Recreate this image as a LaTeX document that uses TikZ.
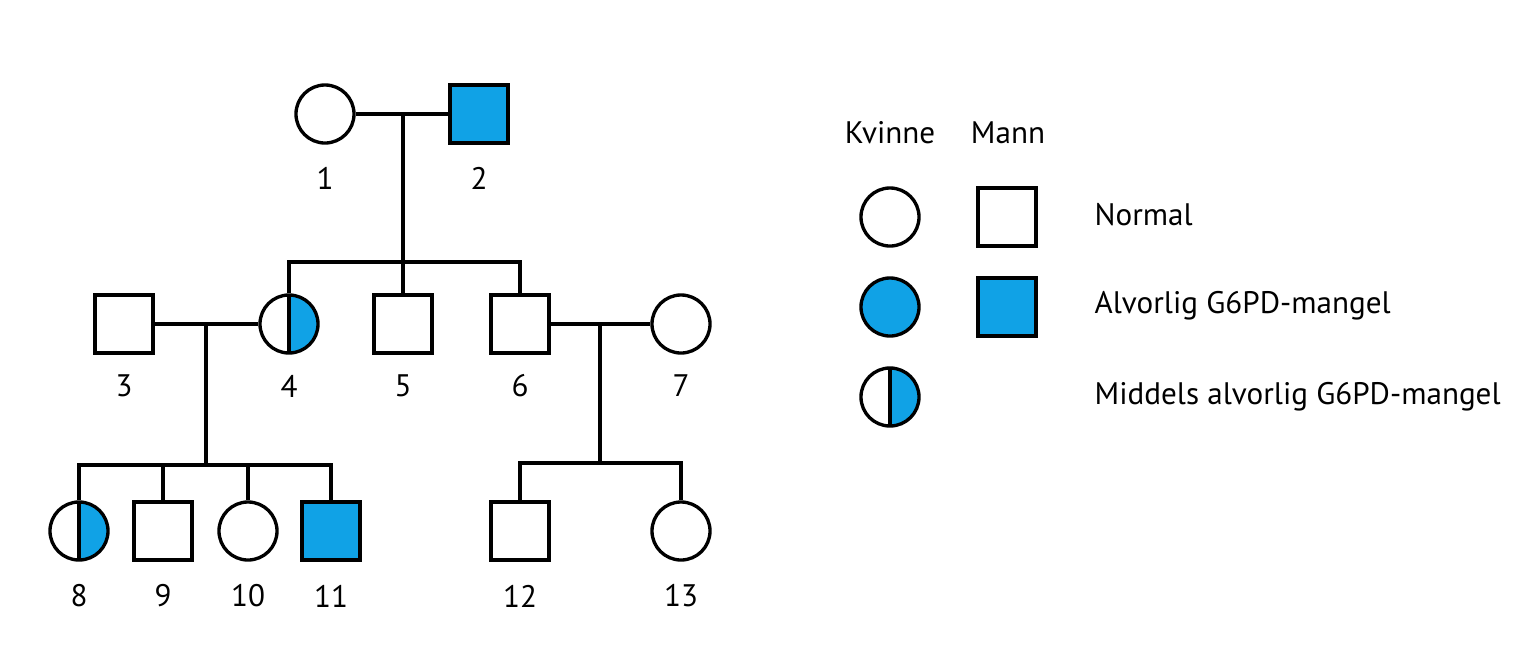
\documentclass[tikz,border=0pt]{standalone}
\usepackage{fontspec}
\setmainfont{PT Sans}
\usepackage{tikz}
\usetikzlibrary{positioning}

\definecolor{sick}{RGB}{16,162,230}

\begin{document}
\begin{tikzpicture}[
  x=0.01cm, y=-0.01cm,
  line width=0.95pt,
  font=\fontsize{8.85}{10.5}\selectfont,
  female/.style={draw, circle, minimum size=0.58cm, inner sep=0pt, fill=white},
  male/.style={draw, rectangle, minimum size=0.58cm, inner sep=0pt, fill=white},
  affected/.style={fill=sick},
  carrier/.style={path picture={
      \fill[sick] (path picture bounding box.north) rectangle (path picture bounding box.south east);
      \draw (path picture bounding box.north) -- (path picture bounding box.south);}},
  num/.style={inner sep=0pt},
  legtext/.style={anchor=west, inner sep=0pt},
]
  \useasboundingbox (0,0) rectangle (1530,663);

  % Generation I
  \node[female] (p1) at (325,114) {};
  \node[male, affected] (p2) at (479,114) {};

  % Generation II
  \node[male] (p3) at (124,324) {};
  \node[female, carrier] (p4) at (289,324) {};
  \node[male] (p5) at (403,324) {};
  \node[male] (p6) at (520,324) {};
  \node[female] (p7) at (681,324) {};

  % Generation III
  \node[female, carrier] (p8) at (79,531) {};
  \node[male] (p9) at (163,531) {};
  \node[female] (p10) at (248,531) {};
  \node[male, affected] (p11) at (331,531) {};
  \node[male] (p12) at (520,531) {};
  \node[female] (p13) at (681,531) {};

  % Numbers
  \foreach \n/\x/\y in {1/325/178, 2/479/178, 3/124/386, 4/289/386, 5/403/386,
      6/520/386, 7/681/386, 8/79/596, 9/163/596, 10/248/596, 11/331/596,
      12/520/596, 13/681/596}
    \node[num] (l\n) at (\x,\y) {\n};

  % Lines I -> II
  \coordinate (m12) at (403,114);
  \coordinate (s12) at (403,262);
  \draw (p1) -- (p2);
  \draw (m12) -- (s12);
  \draw (p4) -- (p4 |- s12) -- (p6 |- s12) -- (p6);
  \draw (p5 |- s12) -- (p5);

  % Lines 3 x 4 -> III
  \coordinate (m34) at (206,324);
  \coordinate (s34) at (206,465);
  \draw (p3) -- (p4);
  \draw (m34) -- (s34);
  \draw (p8) -- (p8 |- s34) -- (p11 |- s34) -- (p11);
  \draw (p9 |- s34) -- (p9);
  \draw (p10 |- s34) -- (p10);

  % Lines 6 x 7 -> III
  \coordinate (m67) at (600,324);
  \coordinate (s67) at (600,463);
  \draw (p6) -- (p7);
  \draw (m67) -- (s67);
  \draw (p12) -- (p12 |- s67) -- (p13 |- s67) -- (p13);

  % Legend
  \node (kv) at (890,133) {Kvinne};
  \node (ma) at (1008,133) {Mann};
  \node[female] (lf1) at (890,217) {};
  \node[male] (lm1) at (1007,217) {};
  \node[female, affected] (lf2) at (890,307) {};
  \node[male, affected] (lm2) at (1007,307) {};
  \node[female, carrier] (lf3) at (890,397) {};
  \node[legtext] (t1) at (1093,215) {Normal};
  \node[legtext] (t2) at (1093,306) {Alvorlig G6PD-mangel};
  \node[legtext] (t3) at (1093,397) {Middels alvorlig G6PD-mangel};
\end{tikzpicture}
\end{document}
